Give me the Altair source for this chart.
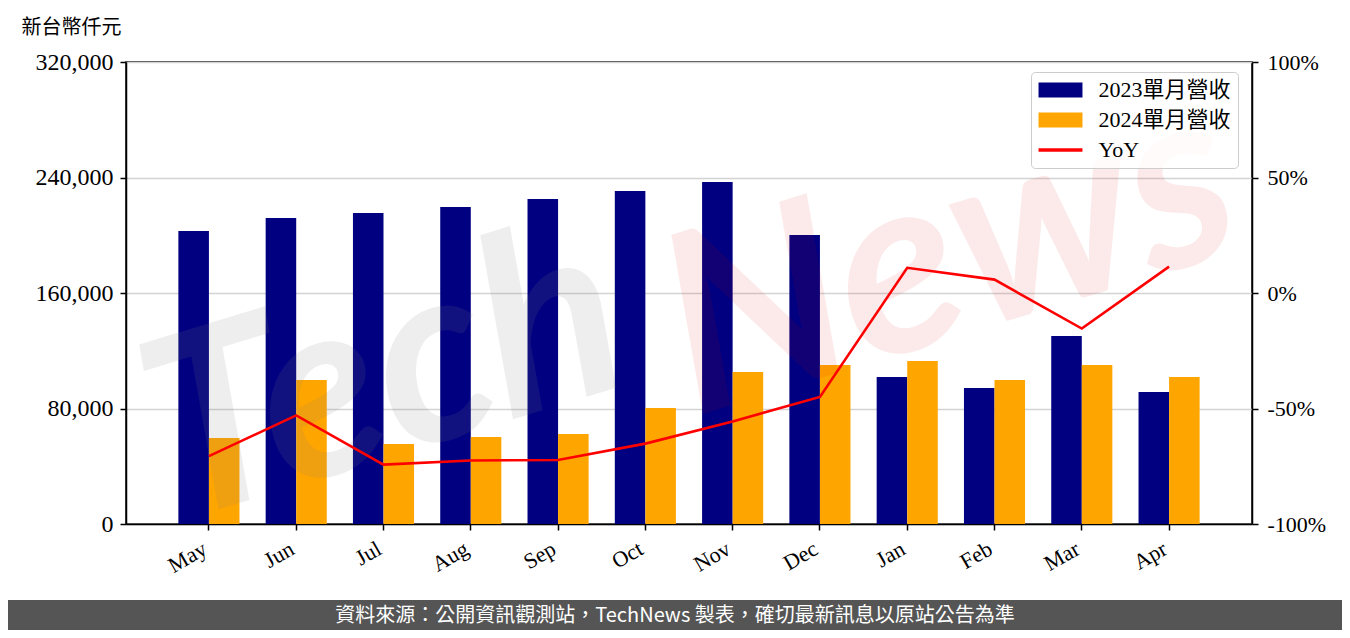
import altair as alt
import pandas as pd

months = ["May", "Jun", "Jul", "Aug", "Sep", "Oct", "Nov", "Dec", "Jan", "Feb", "Mar", "Apr"]
rev_2023 = [202900, 211900, 215400, 219600, 225100, 230600, 236900, 200200, 101800, 94200, 130200, 91400]
rev_2024 = [59600, 99700, 55400, 60300, 62300, 80300, 105300, 110100, 112900, 99700, 110100, 101800]
yoy = [-70.6, -53.0, -74.3, -72.5, -72.3, -65.2, -55.6, -45.0, 10.9, 5.8, -15.4, 11.4]
series_names = ["2023單月營收", "2024單月營收", "YoY"]
series_colors = ["#000080", "#FFA500", "#FF0000"]
left_ticks = [0, 80000, 160000, 240000, 320000]
right_ticks = [-100, -50, 0, 50, 100]
y_title = "新台幣仟元"
source_note = "資料來源：公開資訊觀測站，TechNews 製表，確切最新訊息以原站公告為準"

SERIF = "Liberation Serif, Noto Sans CJK TC"
PW, PH = 1126, 462
PAD = {"left": 118, "top": 54, "right": 90, "bottom": 106}

bars_df = pd.DataFrame(
    [{"month": m, "series": series_names[0], "value": v} for m, v in zip(months, rev_2023)]
    + [{"month": m, "series": series_names[1], "value": v} for m, v in zip(months, rev_2024)]
)
line_df = pd.DataFrame({"month": months, "yoy": yoy})
one = pd.DataFrame({"k": [0]})


def x_axis():
    return alt.Axis(
        title=None, labelAngle=330, labelAlign="right", labelBaseline="top",
        labelFont=SERIF, labelFontSize=22, labelColor="black", tickSize=6,
        tickColor="black", tickWidth=1.5, labelPadding=8, labelOffset=-9,
        domainColor="black", domainWidth=1.5, grid=False,
    )


x_scale = alt.Scale(paddingInner=0.3, paddingOuter=0.6)

legend = alt.Legend(
    title=None, orient="none", legendX=905, legendY=10,
    symbolSize=225, symbolStrokeWidth=0, symbolOffset=11.5,
    symbolType=alt.ExprRef("datum.value == 'YoY' ? 'M-2.93,-0.23H2.93V0.23H-2.93Z' : 'M-2.93,-1H2.93V1H-2.93Z'"),
    labelFont=SERIF, labelFontSize=22, labelOffset=27, labelColor="black",
    padding=7, rowPadding=8, strokeColor="#cccccc",
    fillColor="rgba(255,255,255,0.8)", cornerRadius=4,
)

bars = alt.Chart(bars_df).mark_bar().encode(
    x=alt.X("month:N", sort=months, scale=x_scale, axis=x_axis()),
    xOffset=alt.XOffset("series:N", sort=series_names[:2], scale=alt.Scale(paddingInner=0, paddingOuter=0)),
    y=alt.Y(
        "value:Q", scale=alt.Scale(domain=[0, 320000], nice=False),
        axis=alt.Axis(
            values=left_ticks, format=",.0f", title=y_title, titleAngle=0,
            titleAlign="left", titleBaseline="middle", titleX=-105, titleY=-35,
            titleFont="Noto Sans CJK TC", titleFontSize=20, titleFontWeight="normal",
            titleColor="black", labelFont=SERIF, labelFontSize=24, labelColor="black",
            tickSize=6, tickColor="black", tickWidth=1.5, labelPadding=7,
            domainColor="black", domainWidth=1.5, gridColor="#d3d3d3", gridWidth=1.5,
        ),
    ),
    color=alt.Color("series:N", scale=alt.Scale(domain=series_names, range=series_colors), legend=legend),
)

wm_tech = alt.Chart(one).mark_text(
    text="Tech", font="Lato", fontSize=250, fontStyle="italic", fontWeight="bold",
    angle=343, color="#808080", opacity=0.13, align="center", baseline="middle",
).encode(x=alt.value(259), y=alt.value(318))

wm_news = alt.Chart(one).mark_text(
    text="News", font="Lato", fontSize=250, fontStyle="italic", fontWeight="bold",
    angle=343, color="#e00000", opacity=0.08, align="center", baseline="middle",
).encode(x=alt.value(824), y=alt.value(198))

line = alt.Chart(line_df).mark_line(color="#FF0000", strokeWidth=2.6).encode(
    x=alt.X("month:N", sort=months, scale=x_scale, axis=x_axis()),
    y=alt.Y(
        "yoy:Q", scale=alt.Scale(domain=[-100, 100], nice=False),
        axis=alt.Axis(
            orient="right", values=right_ticks, labelExpr="datum.value + '%'",
            title=None, grid=False, labelFont=SERIF, labelFontSize=22,
            labelColor="black", tickSize=6, tickColor="black", tickWidth=1.5,
            labelPadding=9, domainColor="black", domainWidth=1.5,
        ),
    ),
)

banner = alt.Chart(one).mark_rect(color="#555555").encode(
    x=alt.value(-PAD["left"]), x2=alt.value(PW + PAD["right"]),
    y=alt.value(538), y2=alt.value(PH + PAD["bottom"]),
)
banner_text = alt.Chart(one).mark_text(
    text=source_note, font="Noto Sans CJK TC", fontSize=20, color="white",
    align="center", baseline="middle",
).encode(x=alt.value(549), y=alt.value(554))

chart = alt.layer(bars, wm_tech, wm_news, line, banner, banner_text).resolve_scale(
    y="independent"
).properties(
    width=PW, height=PH, autosize=alt.AutoSizeParams(type="none"), padding=PAD,
    background="white",
).configure_view(stroke="black", strokeWidth=1.5)

chart.save("out.html", embed_options={"renderer": "svg", "actions": False})
